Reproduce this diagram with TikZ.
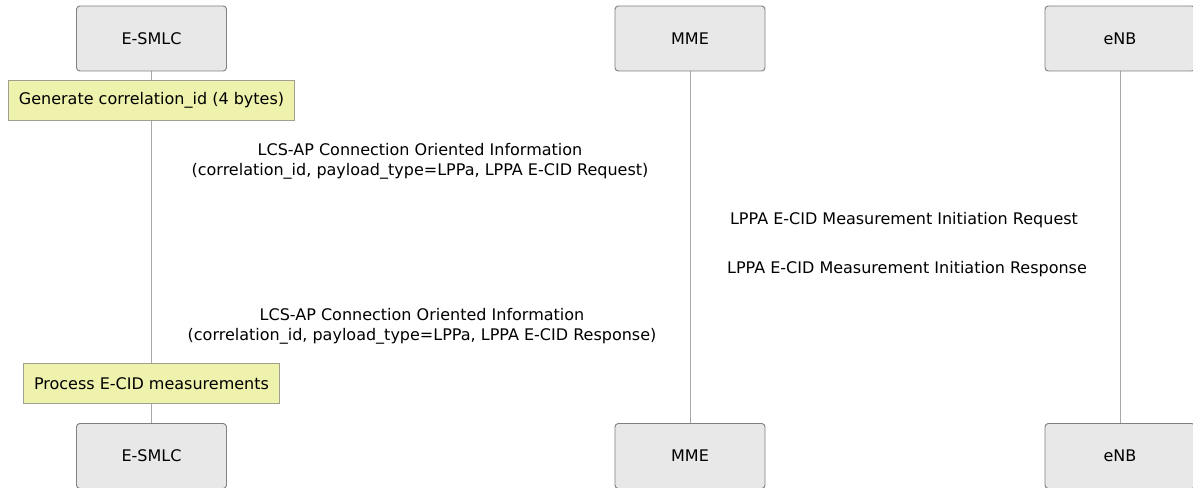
\documentclass[tikz,border=0pt]{standalone}
\usepackage{fontspec}
\setmainfont{DejaVu Sans}
\usetikzlibrary{backgrounds}
\definecolor{actfill}{HTML}{E8E8E8}
\definecolor{actdraw}{HTML}{808080}
\definecolor{notefill}{HTML}{EEF2AC}
\definecolor{notedraw}{HTML}{A0A090}
\definecolor{lifecol}{HTML}{A8A8A8}
\tikzset{
  actor/.style={draw=actdraw, fill=actfill, rounded corners=2.5pt, line width=0.7pt,
    minimum width=150*0.75pt, minimum height=65*0.75pt, inner sep=0pt, font=\fontsize{12}{15}\selectfont},
  note/.style={draw=notedraw, fill=notefill, line width=0.7pt, minimum height=40*0.75pt,
    inner sep=0pt, font=\fontsize{12}{15}\selectfont},
  msg/.style={align=center, font=\fontsize{12}{15}\selectfont, inner sep=0pt},
  life/.style={draw=lifecol, line width=0.7pt}
}
\begin{document}
\begin{tikzpicture}[x=0.75pt, y=-0.75pt]
\useasboundingbox (0,0) rectangle (1193,488);
\clip (0,0) rectangle (1193,488);
\node[actor] (s1) at (151.5,38.5) {E-SMLC};
\node[actor] (m1) at (690,38.5) {MME};
\node[actor] (e1) at (1120,38.5) {eNB};
\node[actor] (s2) at (151.5,456) {E-SMLC};
\node[actor] (m2) at (690,456) {MME};
\node[actor] (e2) at (1120,456) {eNB};
\node[note, minimum width=286*0.75pt] (n1) at (151.5,100.5) {Generate correlation\_id (4 bytes)};
\node[note, minimum width=256*0.75pt] (n2) at (151.5,383.5) {Process E-CID measurements};
\node[msg] (t1) at (420,161) {LCS-AP Connection Oriented Information\\(correlation\_id, payload\_type=LPPa, LPPA E-CID Request)};
\node[msg] (t2) at (904,220.5) {LPPA E-CID Measurement Initiation Request};
\node[msg] (t3) at (907,269.5) {LPPA E-CID Measurement Initiation Response};
\node[msg] (t4) at (422,326.5) {LCS-AP Connection Oriented Information\\(correlation\_id, payload\_type=LPPa, LPPA E-CID Response)};
\begin{scope}[on background layer]
\draw[life] (s1.south) -- (s2.north);
\draw[life] (m1.south) -- (m2.north);
\draw[life] (e1.south) -- (e2.north);
\end{scope}
\end{tikzpicture}
\end{document}
